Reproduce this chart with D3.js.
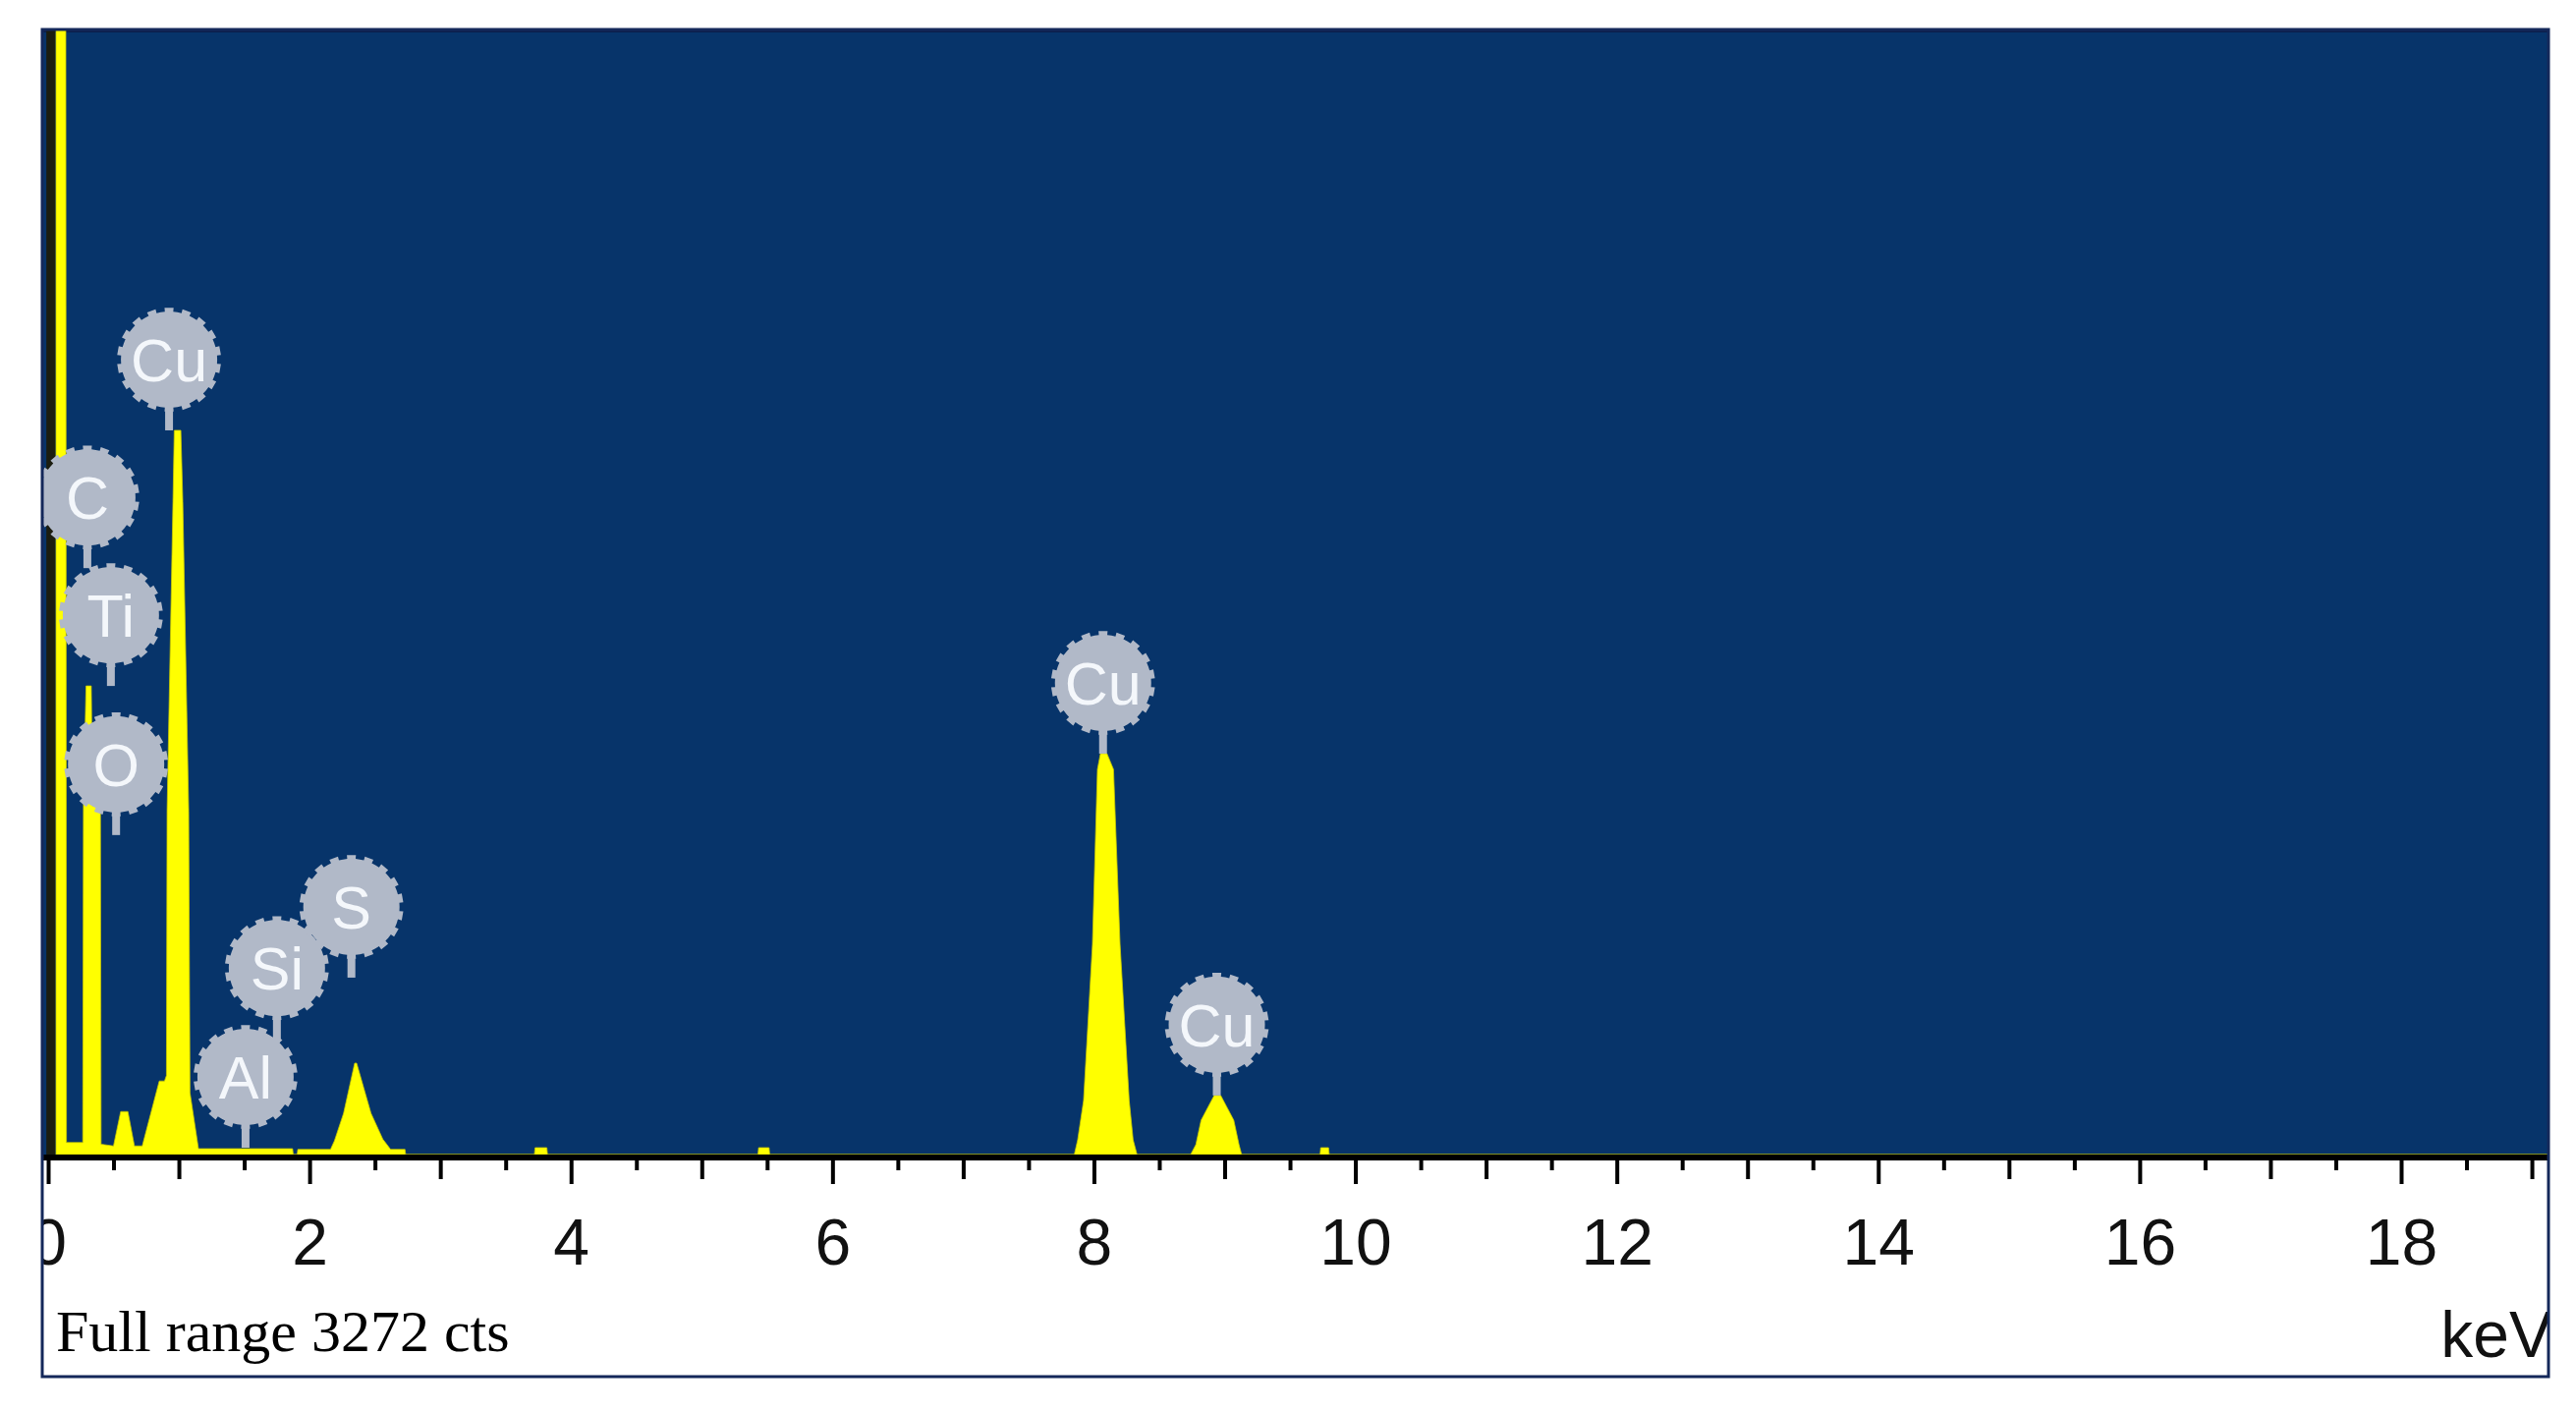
<!DOCTYPE html>
<html>
<head>
<meta charset="utf-8">
<script src="https://cdn.jsdelivr.net/npm/d3@7"></script>
<style>
  body { margin: 0; background: #fff; }
</style>
</head>
<body>
<script>
// Canvas size
const width = 2622, height = 1437;

// Spectrum outline: energy (keV) and counts
const specKeV = [
  0.06, 0.06, 0.135, 0.14, 0.265, 0.27, 0.29, 0.33, 0.34, 0.40, 0.405,
  0.50, 0.555, 0.61, 0.66, 0.72, 0.85, 0.89, 0.905, 0.91, 0.955, 0.965,
  1.015, 1.03, 1.075, 1.085, 1.15, 1.87, 1.875, 1.905, 1.91, 2.16, 2.19,
  2.26, 2.345, 2.36, 2.47, 2.56, 2.62, 2.73, 2.735,
  3.72, 3.725, 3.815, 3.82, 5.43, 5.435, 5.515, 5.52,
  7.85, 7.876, 7.921, 7.989, 8.027, 8.05, 8.10, 8.15, 8.20, 8.27, 8.30, 8.33,
  8.74, 8.78, 8.82, 8.92, 8.97, 9.07, 9.11, 9.13,
  9.73, 9.735, 9.795, 9.80, 19.2
];
const specCounts = [
  0, 3400, 3400, 35, 35, 1015, 1364, 1364, 1015, 1015, 30,
  25, 125, 125, 25, 25, 214, 214, 230, 1000, 1900, 2108,
  2108, 1900, 1000, 180, 17, 17, 0, 0, 15, 15, 40,
  120, 266, 266, 120, 45, 15, 15, 0,
  0, 20, 20, 0, 0, 20, 20, 0,
  0, 43, 157, 612, 1121, 1167, 1167, 1121, 612, 157, 43, 0,
  0, 29, 100, 172, 172, 100, 29, 0,
  0, 20, 20, 0, 0
];

// Element markers: name, line energy and height of the stem end
const labelNames  = ["Cu", "C", "Ti", "O", "Al", "Si", "S", "Cu", "Cu"];
const labelKeV    = [0.925, 0.30, 0.48, 0.52, 1.51, 1.75, 2.32, 8.07, 8.94];
const labelCounts = [2108, 1707, 1364, 930, 20, 337, 515, 1167, 172];

// Axis
const tickLabels = [0, 2, 4, 6, 8, 10, 12, 14, 16, 18];
const fullRange = 3272;
const zeroLineKeV = 0.02;

// Frame and plot geometry
const frame = { left: 43, top: 30, right: 2594, bottom: 1401 };
const axisY = 1178;

const svg = d3.select("body").append("svg")
    .attr("width", width)
    .attr("height", height);

svg.append("clipPath").attr("id", "frameClip")
  .append("rect")
    .attr("x", frame.left).attr("y", frame.top)
    .attr("width", frame.right - frame.left)
    .attr("height", frame.bottom - frame.top);

const g = svg.append("g").attr("clip-path", "url(#frameClip)");

// Scales
const x = d3.scaleLinear().domain([0, 18]).range([49, 2444]);
const y = d3.scaleLinear().domain([0, fullRange]).range([1175, 31]);

// White panel and blue plot area
g.append("rect")
    .attr("x", frame.left).attr("y", frame.top)
    .attr("width", frame.right - frame.left)
    .attr("height", frame.bottom - frame.top)
    .attr("fill", "#ffffff");

g.append("rect")
    .attr("x", frame.left).attr("y", frame.top)
    .attr("width", frame.right - frame.left)
    .attr("height", axisY - frame.top)
    .attr("fill", "#07346a");

g.append("line")
    .attr("x1", frame.left).attr("x2", frame.right)
    .attr("y1", frame.top + 1.5).attr("y2", frame.top + 1.5)
    .attr("stroke", "#0b1f4c").attr("stroke-width", 3);

// Spectrum
const spectrum = specKeV.map((k, i) => [k, specCounts[i]]);
const area = d3.area()
    .x(d => x(d[0]))
    .y0(y(0))
    .y1(d => y(d[1]));

g.append("path")
    .datum(spectrum)
    .attr("fill", "#ffff00")
    .attr("stroke", "#c8c800")
    .attr("stroke-width", 0.8)
    .attr("d", area);

// dark zero-energy strip at the left edge
g.append("line")
    .attr("x1", x(zeroLineKeV)).attr("x2", x(zeroLineKeV))
    .attr("y1", y(0)).attr("y2", frame.top)
    .attr("stroke", "#1b1d10").attr("stroke-width", 9);

// Axis: ticks every 0.5 keV, longer at whole and even keV
const tickValues = d3.range(0, 19.01, 0.5);
const tickAxis = g.append("g")
    .attr("transform", `translate(0,${axisY})`)
    .call(d3.axisBottom(x).tickValues(tickValues).tickFormat("").tickSizeOuter(0));

tickAxis.select(".domain")
    .attr("d", `M${frame.left},0H${frame.right}`)
    .attr("stroke", "#000").attr("stroke-width", 6);
tickAxis.selectAll(".tick line")
    .attr("stroke", "#000").attr("stroke-width", 4)
    .attr("y2", d => d % 2 === 0 ? 27 : (d % 1 === 0 ? 22 : 13));

const labelAxis = g.append("g")
    .attr("transform", `translate(0,${axisY})`)
    .call(d3.axisBottom(x).tickValues(tickLabels).tickSize(0).tickPadding(62));
labelAxis.select(".domain").remove();
labelAxis.selectAll("text")
    .attr("font-family", "'Liberation Sans', Arial, sans-serif")
    .attr("font-size", 66)
    .attr("fill", "#111");

// Captions
g.append("text")
    .attr("x", 57).attr("y", 1375)
    .attr("font-family", "'Liberation Serif', 'Times New Roman', serif")
    .attr("font-size", 60)
    .attr("fill", "#000")
    .text(`Full range ${fullRange} cts`);

g.append("text")
    .attr("x", 2598).attr("y", 1381)
    .attr("text-anchor", "end")
    .attr("font-family", "'Liberation Sans', Arial, sans-serif")
    .attr("font-size", 66)
    .attr("fill", "#111")
    .text("keV");

// Element marker bubbles (cog-like outline)
const teeth = 18, rIn = 49, rOut = 53;
const gearPts = [];
for (let i = 0; i < teeth; i++) {
  const a = i / teeth * 2 * Math.PI, w = Math.PI / teeth * 0.5;
  gearPts.push([a - w, rIn], [a - w, rOut], [a + w, rOut], [a + w, rIn], [a + Math.PI / teeth, rIn]);
}
const gear = d3.lineRadial().curve(d3.curveLinearClosed)(gearPts);

const markers = labelNames.map((n, i) => ({ name: n, keV: labelKeV[i], counts: labelCounts[i] }));
const bubble = g.selectAll(".marker")
  .data(markers)
  .enter().append("g")
    .attr("class", "marker")
    .attr("transform", d => `translate(${x(d.keV)},${y(d.counts) - 72})`);

bubble.append("rect")
    .attr("x", -4).attr("y", 44)
    .attr("width", 8).attr("height", 28)
    .attr("fill", "#b1b9c8");

bubble.append("path")
    .attr("d", gear)
    .attr("fill", "#b1b9c8");

bubble.append("text")
    .attr("text-anchor", "middle")
    .attr("dy", "0.36em")
    .attr("font-family", "'Liberation Sans', Arial, sans-serif")
    .attr("font-size", 61)
    .attr("fill", "#f4f7fb")
    .text(d => d.name);

// Frame border
svg.append("rect")
    .attr("x", frame.left).attr("y", frame.top)
    .attr("width", frame.right - frame.left)
    .attr("height", frame.bottom - frame.top)
    .attr("fill", "none")
    .attr("stroke", "#14285a")
    .attr("stroke-width", 3);
</script>
</body>
</html>
